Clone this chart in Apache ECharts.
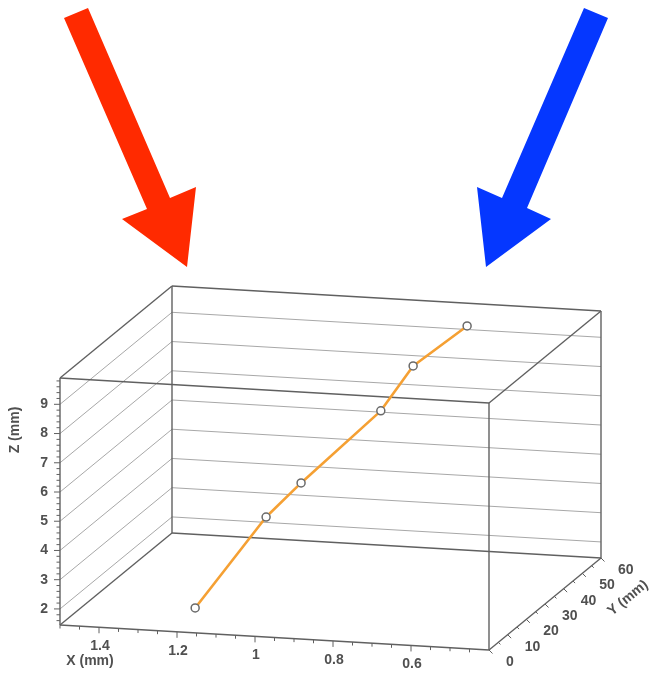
<!DOCTYPE html>
<html><head><meta charset="utf-8">
<script src="https://cdn.jsdelivr.net/npm/echarts@6/dist/echarts.min.js"></script>
<style>html,body{margin:0;padding:0;background:#fff}#c{width:657px;height:676px}</style>
</head><body><div id="c"></div>
<script>
// ---- data ----
const trajX = [1.163, 1.029, 0.968, 0.821, 0.786, 0.705];
const trajY = [2, 12, 18, 30, 40, 52];
const trajZ = [2.19, 4.88, 5.78, 7.73, 8.77, 9.57];
const xTickLabels = [1.4, 1.2, 1, 0.8, 0.6];
const yTickLabels = [0, 10, 20, 30, 40, 50, 60];
const zTickLabels = [2, 3, 4, 5, 6, 7, 8, 9];
const xRange = [0.4, 1.5];
const yRange = [0, 60];
const zRange = [1.45, 9.9];

// ---- layout of the oblique projection ----
const GRID = {left: 60, top: 378, width: 429, height: 247};
const SKEW_DY = 25;          // the X axis drops this much across the box
const DEPTH = [112, -92];    // screen shift of the full Y range
const FONT = 'bold 14px "Liberation Sans", Arial, sans-serif';
const TXT = '#505050';
const EDGE = '#606060';
const GRIDC = '#a8a8a8';

function P(api, x, y, z) {
  const c = api.coord([x, z]);
  const f = (c[0] - GRID.left) / GRID.width;
  const t = (y - yRange[0]) / (yRange[1] - yRange[0]);
  return [c[0] + t * DEPTH[0], c[1] + f * SKEW_DY + t * DEPTH[1]];
}
function seg(a, b, color, w) {
  return {type: 'line', shape: {x1: a[0], y1: a[1], x2: b[0], y2: b[1]},
    style: {stroke: color, lineWidth: w}, silent: true};
}
function txt(x, y, s, align, valign) {
  return {type: 'text', x: x, y: y, silent: true,
    style: {text: s, font: FONT, fill: TXT, align: align, verticalAlign: valign,
      textAlign: align, textVerticalAlign: valign}};
}
const near = (a, b) => Math.abs(a - b) < 1e-6;

// tick positions (major from label arrays, minor at fixed steps)
const xTicks = [];
for (let v = 0.45; v <= 1.5 + 1e-9; v += 0.05) xTicks.push([+v.toFixed(2)]);
const zTicks = [];
for (let v = 1.6; v <= 9.8 + 1e-9; v += 0.2) zTicks.push([+v.toFixed(1)]);
const yTicks = [];
for (let v = 0; v <= 60; v += 5) yTicks.push([v]);

const [X0, X1] = xRange, [Y0, Y1] = yRange, [Z0, Z1] = zRange;

const chart = echarts.init(document.getElementById('c'), null, {renderer: 'canvas'});
chart.setOption({
  backgroundColor: '#fff',
  animation: false,
  grid: {left: GRID.left, top: GRID.top, width: GRID.width, height: GRID.height},
  xAxis: {type: 'value', min: X0, max: X1, inverse: true, show: false},
  yAxis: {type: 'value', min: Z0, max: Z1, show: false},
  graphic: [
    {type: 'polygon', silent: true,
      shape: {points: [[64,18],[88,8],[170,198],[196,187],[187,267],[122,219],[147,209]]},
      style: {fill: '#ff2a00'}},
    {type: 'polygon', silent: true,
      shape: {points: [[584,8],[608,18],[527,208],[551,219],[486,267],[477,187],[502,198]]},
      style: {fill: '#0537ff'}},
    {type: 'text', x: 15, y: 430, rotation: Math.PI / 2, silent: true,
      style: {text: 'Z (mm)', font: FONT, fill: TXT, align: 'center', verticalAlign: 'middle'}},
    {type: 'text', x: 90, y: 661, silent: true,
      style: {text: 'X (mm)', font: FONT, fill: TXT, align: 'center', verticalAlign: 'middle'}},
    {type: 'text', x: 628, y: 598, rotation: Math.atan2(92, 112), silent: true,
      style: {text: 'Y (mm)', font: FONT, fill: TXT, align: 'center', verticalAlign: 'middle'}}
  ],
  series: [
    { // wall grid lines at each labelled Z
      type: 'custom', silent: true, data: zTickLabels.map(v => [v]),
      renderItem: (params, api) => {
        const z = api.value(0);
        return {type: 'group', children: [
          seg(P(api, X1, Y0, z), P(api, X1, Y1, z), GRIDC, 1),
          seg(P(api, X1, Y1, z), P(api, X0, Y1, z), GRIDC, 1)
        ]};
      }
    },
    { // box frame
      type: 'custom', silent: true, data: [[0]],
      renderItem: (params, api) => {
        const c = (x, y, z) => P(api, x, y, z);
        const e = [];
        for (const y of [Y0, Y1]) {
          e.push(seg(c(X1, y, Z0), c(X0, y, Z0), EDGE, 1.4));
          e.push(seg(c(X1, y, Z1), c(X0, y, Z1), EDGE, 1.4));
          e.push(seg(c(X1, y, Z0), c(X1, y, Z1), EDGE, 1.4));
          e.push(seg(c(X0, y, Z0), c(X0, y, Z1), EDGE, 1.4));
        }
        for (const x of [X0, X1]) for (const z of [Z0, Z1])
          e.push(seg(c(x, Y0, z), c(x, Y1, z), EDGE, 1.4));
        return {type: 'group', children: e};
      }
    },
    { // Z axis ticks + labels
      type: 'custom', silent: true, data: zTicks,
      renderItem: (params, api) => {
        const z = api.value(0);
        const p = P(api, X1, Y0, z);
        const major = zTickLabels.some(v => near(v, z));
        const ch = [seg(p, [p[0] - (major ? 6 : 3.5), p[1]], EDGE, 1)];
        if (major) ch.push(txt(p[0] - 12, p[1], String(z), 'right', 'middle'));
        return {type: 'group', children: ch};
      }
    },
    { // X axis ticks + labels
      type: 'custom', silent: true, data: xTicks,
      renderItem: (params, api) => {
        const x = api.value(0);
        const p = P(api, x, Y0, Z0);
        const major = xTickLabels.some(v => near(v, x));
        const ch = [seg(p, [p[0], p[1] + (major ? 6 : 3.5)], EDGE, 1)];
        if (major) ch.push(txt(p[0] + 1, p[1] + 19, String(x), 'center', 'middle'));
        return {type: 'group', children: ch};
      }
    },
    { // Y axis ticks + labels
      type: 'custom', silent: true, data: yTicks,
      renderItem: (params, api) => {
        const y = api.value(0);
        const p = P(api, X0, y, Z0);
        const major = yTickLabels.some(v => near(v, y));
        const L = major ? 5 : 3;
        const ch = [seg(p, [p[0] + L * 0.7, p[1] + L * 0.7], EDGE, 1)];
        if (major) ch.push(txt(p[0] + 17, p[1] + 12, String(y), 'left', 'middle'));
        return {type: 'group', children: ch};
      }
    },
    { // trajectory segments
      type: 'custom', silent: true, data: trajX.map((x, i) => [x, trajY[i], trajZ[i], i]),
      renderItem: (params, api) => {
        const i = api.value(3);
        if (i === 0) return null;
        const a = P(api, trajX[i - 1], trajY[i - 1], trajZ[i - 1]);
        const b = P(api, api.value(0), api.value(1), api.value(2));
        return {type: 'line', shape: {x1: a[0], y1: a[1], x2: b[0], y2: b[1]},
          style: {stroke: '#f5a033', lineWidth: 2.6, lineCap: 'round'}};
      }
    },
    { // trajectory markers
      type: 'custom', silent: true, data: trajX.map((x, i) => [x, trajY[i], trajZ[i]]),
      renderItem: (params, api) => {
        const p = P(api, api.value(0), api.value(1), api.value(2));
        return {type: 'circle', shape: {cx: p[0], cy: p[1], r: 4},
          style: {fill: '#fff', stroke: '#6a6a6a', lineWidth: 1.5}};
      }
    }
  ]
});
</script>
</body></html>
